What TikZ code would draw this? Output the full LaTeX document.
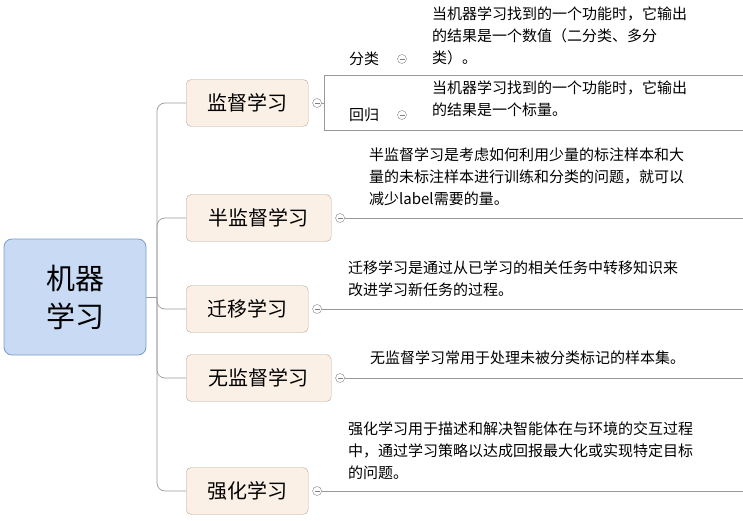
\documentclass[tikz,border=0pt]{standalone}
\usepackage{fontspec}
\setmainfont{Noto Sans CJK SC}
\definecolor{rootfill}{HTML}{C8DAF4}
\definecolor{rootline}{HTML}{7C9CC8}
\definecolor{topicfill}{HTML}{FBF0E6}
\definecolor{topicline}{HTML}{B8A898}
\begin{document}
\begin{tikzpicture}[x=1pt,y=-1pt,
  rootbox/.style={draw=rootline, fill=rootfill, rounded corners=8pt, line width=0.8pt, minimum width=142pt, minimum height=116pt, font=\fontsize{29}{38}\selectfont, align=center},
  topic/.style={draw=topicline, fill=topicfill, rounded corners=5pt, minimum height=47pt, font=\fontsize{20}{24}\selectfont, anchor=west, inner xsep=15pt},
  desc/.style={anchor=north west, align=left, font=\fontsize{15}{22}\selectfont, inner sep=0pt},
  lbl/.style={font=\fontsize{15}{18}\selectfont, inner sep=0pt},
  fold/.style={draw=gray, circle, minimum size=9pt, inner sep=0pt, path picture={\draw[gray] ([xshift=-2.5pt]path picture bounding box.center) -- ([xshift=2.5pt]path picture bounding box.center);}},
  link/.style={draw=gray!80, line width=0.7pt}]
\useasboundingbox (0,0) rectangle (743,521);
\node[rootbox] (root) at (75,297) {机器\\学习};
\node[topic, minimum width=122pt] (t1) at (186,103) {监督学习};
\node[topic, minimum width=145pt] (t2) at (186,218) {半监督学习};
\node[topic, minimum width=122pt] (t3) at (186,309) {迁移学习};
\node[topic, minimum width=145pt] (t4) at (186,378) {无监督学习};
\node[topic, minimum width=122pt] (t5) at (186,491) {强化学习};
\coordinate (tr) at (157,297);
\draw[link] (root.east) -- (tr);
\foreach \t in {t1,t2,t3,t4,t5}{\draw[link, rounded corners=8pt] (tr) |- (\t.west);}
\foreach \t/\n in {t1/f1,t2/f2,t3/f3,t4/f4,t5/f5}{\node[fold, anchor=west] (\n) at ([xshift=4pt]\t.east) {};}
\foreach \n/\y in {f2/218,f3/309,f4/378,f5/491}{\coordinate (e\n) at (743,\y); \draw[link] (\n.east) -- (e\n);}
% supervised bracket
\coordinate (ba) at (743,75); \coordinate (bb) at (324,75); \coordinate (bc) at (324,130); \coordinate (bd) at (743,130);
\draw[link] (f1.east) -- (bb |- f1);
\draw[link] (ba) -- (bb) -- (bc) -- (bd);
\node[lbl] (c1) at (364,59) {分类};
\node[fold] (g1) at (402,59) {};
\node[lbl] (c2) at (364,115) {回归};
\node[fold] (g2) at (402,115) {};
\node[desc] (d1) at (432,7) {当机器学习找到的一个功能时，它输出\\的结果是一个数值（二分类、多分\\类）。};
\node[desc] (d2) at (432,81) {当机器学习找到的一个功能时，它输出\\的结果是一个标量。};
\node[desc] (d3) at (369,148) {半监督学习是考虑如何利用少量的标注样本和大\\量的未标注样本进行训练和分类的问题，就可以\\减少label需要的量。};
\node[desc] (d4) at (348,261) {迁移学习是通过从已学习的相关任务中转移知识来\\改进学习新任务的过程。};
\node[desc] (d5) at (370,351) {无监督学习常用于处理未被分类标记的样本集。};
\node[desc] (d6) at (348,422) {强化学习用于描述和解决智能体在与环境的交互过程\\中，通过学习策略以达成回报最大化或实现特定目标\\的问题。};
\end{tikzpicture}
\end{document}
